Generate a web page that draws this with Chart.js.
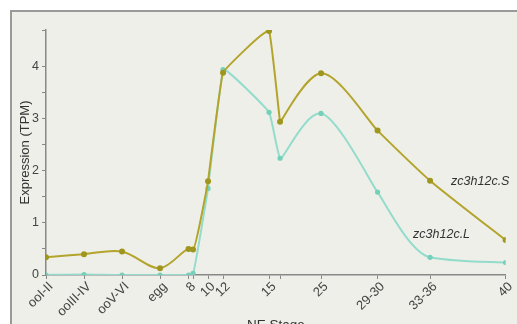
<!DOCTYPE html>
<html>
<head>
<meta charset="utf-8">
<script src="https://cdn.jsdelivr.net/npm/chart.js@4"></script>
<style>
  html, body { margin: 0; padding: 0; background: #fff; }
  #wrap { width: 517px; height: 324px; }
</style>
</head>
<body>
<div id="wrap"><canvas id="stageChart" width="517" height="324"></canvas></div>
<script>
// Etapas NF y posición relativa en el eje
const stageLabels = ['ooI-II', 'ooIII-IV', 'ooV-VI', 'egg', '8', '', '10', '12', '15', '', '25', '29-30', '33-36', '40'];
const stagePos = [0, 3.8, 7.6, 11.4, 14.25, 14.7, 16.2, 17.7, 22.3, 23.4, 27.5, 33.15, 38.4, 45.95];

// Expresión (TPM) de cada homeólogo
const zc3h12cS = [0.34, 0.40, 0.45, 0.13, 0.50, 0.49, 1.80, 3.88, 4.68, 2.94, 3.87, 2.77, 1.81, 0.67];
const zc3h12cL = [0.00, 0.01, 0.00, 0.00, 0.00, 0.03, 1.66, 3.94, 3.12, 2.24, 3.10, 1.59, 0.34, 0.24];

// Etiquetas de serie (en coordenadas de datos)
const seriesNames = ['zc3h12c.S', 'zc3h12c.L'];
const seriesLabelAt = [{ x: 40.5, y: 1.80 }, { x: 36.7, y: 0.77 }];

const toPoints = vals => vals.map((v, i) => ({ x: stagePos[i], y: v }));

// Fondo con marco gris
const panelPlugin = {
    id: 'panel',
    beforeDraw(chart) {
        const c = chart.ctx;
        c.save();
        c.fillStyle = '#ffffff';
        c.fillRect(0, 0, chart.width, chart.height);
        c.fillStyle = '#efefea';
        c.fillRect(11, 11, chart.width, chart.height);
        c.strokeStyle = '#9a9a9a';
        c.lineWidth = 2;
        c.strokeRect(11, 11, chart.width + 10, chart.height + 10);
        c.restore();
    }
};

// Interpolación "monotone" estilo d3 v3 (tangentes en píxeles)
const monotonePlugin = {
    id: 'monotoneV3',
    beforeDatasetDraw(chart, args) {
        const line = args.meta.dataset;
        const pts = args.meta.data;
        const n = pts.length, j = n - 1;
        if (!line || n < 3) return;
        line.updateControlPoints(chart.chartArea);
        const d = [];
        for (let i = 0; i < j; i++) d.push((pts[i + 1].y - pts[i].y) / (pts[i + 1].x - pts[i].x));
        const m = [d[0]];
        for (let i = 1; i < j; i++) m.push((d[i - 1] + d[i]) / 2);
        m.push(d[j - 1]);
        for (let i = 0; i < j; i++) {
            if (Math.abs(d[i]) < 1e-6) { m[i] = m[i + 1] = 0; continue; }
            const a = m[i] / d[i], b = m[i + 1] / d[i];
            let s = a * a + b * b;
            if (s > 9) {
                s = d[i] * 3 / Math.sqrt(s);
                m[i] = s * a;
                m[i + 1] = s * b;
            }
        }
        for (let i = 0; i < n; i++) {
            const pt = pts[i];
            const s = (pts[Math.min(j, i + 1)].x - pts[Math.max(0, i - 1)].x) / (6 * (1 + m[i] * m[i]));
            pt.cp1x = pt.x - s;
            pt.cp1y = pt.y - m[i] * s;
            pt.cp2x = pt.x + s;
            pt.cp2y = pt.y + m[i] * s;
        }
        line._path = undefined;
    }
};

// Nombres de serie en cursiva
const seriesLabelPlugin = {
    id: 'seriesLabels',
    afterDatasetsDraw(chart) {
        const c = chart.ctx;
        const xs = chart.scales.x, ys = chart.scales.y;
        c.save();
        c.font = 'italic 12.5px "Liberation Sans", Arial, sans-serif';
        c.fillStyle = '#333';
        c.textBaseline = 'middle';
        seriesNames.forEach((name, i) => {
            c.fillText(name, xs.getPixelForValue(seriesLabelAt[i].x), ys.getPixelForValue(seriesLabelAt[i].y));
        });
        c.restore();
    }
};

const axisFont = { family: '"Liberation Sans", Arial, sans-serif', size: 13 };

new Chart(document.getElementById('stageChart').getContext('2d'), {
    type: 'line',
    data: {
        datasets: [{
            label: 'zc3h12c.S',
            data: toPoints(zc3h12cS),
            borderColor: '#b3a42c',
            backgroundColor: '#9f961e',
            borderWidth: 2,
            pointRadius: 3,
            pointBorderWidth: 0,
            cubicInterpolationMode: 'monotone'
        }, {
            label: 'zc3h12c.L',
            data: toPoints(zc3h12cL),
            borderColor: '#93dccb',
            backgroundColor: '#74d0b8',
            borderWidth: 2,
            pointRadius: 2.6,
            pointBorderWidth: 0,
            cubicInterpolationMode: 'monotone'
        }]
    },
    options: {
        responsive: false,
        animation: false,
        layout: { padding: { left: 12, right: 11.4, top: 30, bottom: 0 } },
        plugins: { legend: { display: false }, tooltip: { enabled: false } },
        scales: {
            x: {
                type: 'linear',
                min: 0,
                max: 45.95,
                afterFit(scale) { scale.height = 49; },
                afterBuildTicks(scale) { scale.ticks = stagePos.map(v => ({ value: v })); },
                border: { color: '#888', width: 1.5 },
                grid: { drawOnChartArea: false, tickLength: 4, color: '#888', lineWidth: 1 },
                ticks: {
                    autoSkip: false,
                    maxRotation: 45,
                    minRotation: 45,
                    padding: 0,
                    labelOffset: 5,
                    color: '#444',
                    font: axisFont,
                    callback(value) {
                        const i = stagePos.indexOf(value);
                        return i >= 0 ? stageLabels[i] : '';
                    }
                },
                title: {
                    display: true,
                    text: 'NE Stage',
                    color: '#333',
                    font: { family: axisFont.family, size: 13.5 },
                    padding: { top: 0, bottom: -9 }
                }
            },
            y: {
                min: 0,
                max: 4.7,
                afterFit(scale) { scale.width = 34; },
                border: { color: '#888', width: 1.5 },
                grid: { drawOnChartArea: false, tickLength: 4, color: '#888', lineWidth: 1 },
                ticks: {
                    stepSize: 0.5,
                    padding: 3,
                    color: '#444',
                    font: { family: axisFont.family, size: 12.5 },
                    callback: v => Number.isInteger(v) ? v : ''
                },
                title: {
                    display: true,
                    text: 'Expression (TPM)',
                    color: '#333',
                    font: { family: axisFont.family, size: 13 },
                    padding: { top: 6, bottom: 0 }
                }
            }
        }
    },
    plugins: [panelPlugin, monotonePlugin, seriesLabelPlugin]
});
</script>
</body>
</html>
